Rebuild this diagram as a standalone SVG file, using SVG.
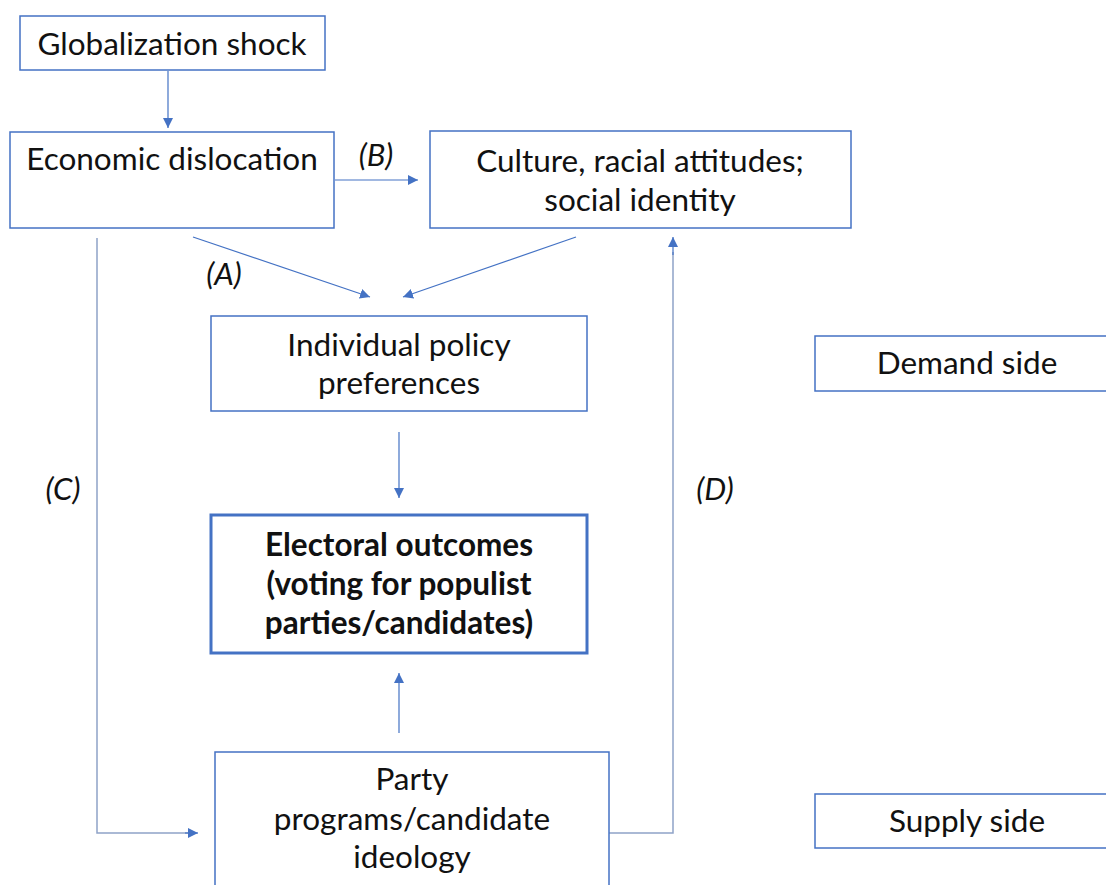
<svg xmlns="http://www.w3.org/2000/svg" width="1106" height="885" viewBox="0 0 1106 885">
<style>
.box{fill:#fff;stroke:#4472C4;stroke-width:1.5}
.bold{stroke-width:3}
.t{font-family:Lato,"Liberation Sans",sans-serif;font-size:31.5px;fill:#111;text-anchor:middle}
.b{font-weight:bold}
.lab{font-family:Lato,"Liberation Sans",sans-serif;font-size:31px;font-style:italic;fill:#111;text-anchor:middle}
.c{fill:none;stroke:#4472C4;stroke-width:1.2}
.g{fill:none;stroke:#8FA3C8;stroke-width:1.5}
</style>
<defs>
<marker id="ah" viewBox="0 0 10 10" refX="10" refY="5" markerWidth="10" markerHeight="10" markerUnits="userSpaceOnUse" orient="auto">
<path d="M0,0 L10,5 L0,10 z" fill="#4472C4"/>
</marker>
</defs>
<rect width="1106" height="885" fill="#fff"/>
<g id="connectors">
<line class="c" x1="168" y1="71" x2="168" y2="128" marker-end="url(#ah)"/>
<line class="c" x1="335" y1="180" x2="418" y2="180" marker-end="url(#ah)"/>
<line class="c" x1="193" y1="237" x2="370" y2="297" marker-end="url(#ah)"/>
<line class="c" x1="576" y1="237" x2="403" y2="297" marker-end="url(#ah)"/>
<line class="c" x1="399" y1="432" x2="399" y2="498" marker-end="url(#ah)"/>
<line class="c" x1="399" y1="733" x2="399" y2="673" marker-end="url(#ah)"/>
<polyline class="g" points="97,238 97,833 190,833"/>
<line class="c" x1="185" y1="833" x2="198" y2="833" marker-end="url(#ah)"/>
<polyline class="g" points="609,833 673,833 673,252"/>
<line class="c" x1="673" y1="255" x2="673" y2="237" marker-end="url(#ah)"/>
<text class="lab" x="376" y="166">(B)</text>
<text class="lab" x="224" y="285">(A)</text>
<text class="lab" x="63" y="500">(C)</text>
<text class="lab" x="715" y="500">(D)</text>
</g>
<g id="globalization">
<rect class="box" x="20" y="16" width="305" height="54"/>
<text class="t" x="172" y="55">Globalization shock</text>
</g>
<g id="economic">
<rect class="box" x="10" y="132" width="324" height="96"/>
<text class="t" x="172" y="170">Economic dislocation</text>
</g>
<g id="culture">
<rect class="box" x="430" y="131" width="421" height="97"/>
<text class="t" x="640" y="172">Culture, racial attitudes;</text>
<text class="t" x="640" y="211">social identity</text>
</g>
<g id="individual">
<rect class="box" x="211" y="316" width="376" height="95"/>
<text class="t" x="399" y="356">Individual policy</text>
<text class="t" x="399" y="394">preferences</text>
</g>
<g id="electoral">
<rect class="box bold" x="211" y="515" width="376" height="138"/>
<text class="t b" x="399" y="556">Electoral outcomes</text>
<text class="t b" x="399" y="595">(voting for populist</text>
<text class="t b" x="399" y="634">parties/candidates)</text>
</g>
<g id="party">
<rect class="box" x="215" y="752" width="394" height="140"/>
<text class="t" x="412" y="790">Party</text>
<text class="t" x="412" y="830">programs/candidate</text>
<text class="t" x="412" y="868">ideology</text>
</g>
<g id="demand">
<rect class="box" x="815" y="336" width="300" height="55"/>
<text class="t" x="967" y="374">Demand side</text>
</g>
<g id="supply">
<rect class="box" x="815" y="794" width="300" height="54"/>
<text class="t" x="967" y="832">Supply side</text>
</g>
</svg>
